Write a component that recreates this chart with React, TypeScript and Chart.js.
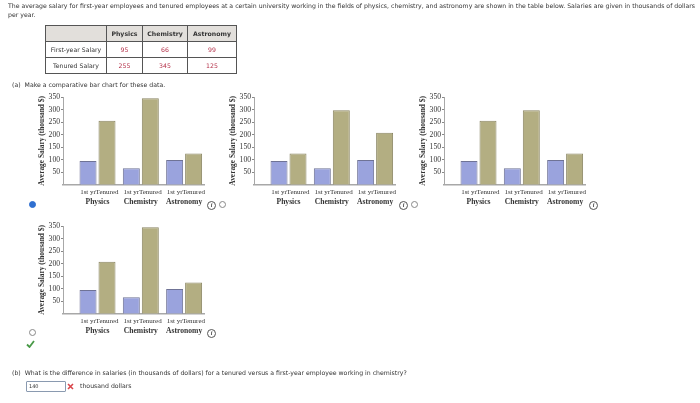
import React, { useEffect, useRef } from 'react';
import { Chart, registerables } from 'chart.js';

Chart.register(...registerables);

const categories = ['Physics', 'Chemistry', 'Astronomy'];
const barLabels = ['1st yr', 'Tenured'];
const yTicks = [50, 100, 150, 200, 250, 300, 350];

const firstYear = [95, 66, 99];
const tenuredA = [255, 345, 125];
const tenuredB = [125, 297, 207];
const tenuredC = [255, 297, 125];
const tenuredD = [207, 345, 125];

const tableRows = [
    { name: 'First-year Salary', values: ['95', '66', '99'] },
    { name: 'Tenured Salary', values: ['255', '345', '125'] },
];

const SERIF = '"Liberation Serif", serif';
const SANS = '"DejaVu Sans", sans-serif';
const TEXT = '#333';

// the "1st yr" / "Tenured" row under each bar, centred on the bar itself
const barLabelPlugin = {
    id: 'barLabels',
    afterDraw(chart: any) {
        const { ctx, chartArea } = chart;
        ctx.save();
        ctx.font = `7px ${SERIF}`;
        ctx.fillStyle = TEXT;
        ctx.textAlign = 'center';
        ctx.textBaseline = 'middle';
        barLabels.forEach((label, i) => {
            chart.getDatasetMeta(i).data.forEach((bar: any) => {
                ctx.fillText(label, bar.x, chartArea.bottom + 7);
            });
        });
        ctx.restore();
    },
};

const SalaryChart: React.FC<{ left: number; top: number; tenured: number[] }> = ({ left, top, tenured }) => {
    const canvasRef = useRef<HTMLCanvasElement | null>(null);

    useEffect(() => {
        if (!canvasRef.current) return;
        const chart = new Chart(canvasRef.current, {
            type: 'bar',
            data: {
                datasets: [
                    {
                        label: barLabels[0],
                        data: firstYear.map((y, i) => ({ x: i + 1, y })),
                        backgroundColor: '#9aa3dd',
                        borderColor: '#6f7396',
                        borderWidth: 1,
                    },
                    {
                        label: barLabels[1],
                        data: tenured.map((y, i) => ({ x: i + 1, y })),
                        backgroundColor: '#b3ae82',
                        borderColor: '#8a8663',
                        borderWidth: 1,
                    },
                ],
            },
            options: {
                animation: false,
                responsive: false,
                layout: { padding: { left: 18, top: 9, right: 6, bottom: 0 } },
                categoryPercentage: 0.877,
                barPercentage: 0.895,
                plugins: { legend: { display: false }, tooltip: { enabled: false } },
                scales: {
                    x: {
                        type: 'linear',
                        offset: false,
                        min: 0.203,
                        max: 3.459,
                        afterFit: (scale: any) => {
                            scale.height = 28.3;
                            scale.paddingLeft = 0;
                            scale.paddingRight = 0;
                        },
                        grid: { display: false, offset: false },
                        border: { color: '#a8a8a8', width: 1.5 },
                        ticks: {
                            stepSize: 1,
                            includeBounds: false,
                            padding: 5,
                            maxRotation: 0,
                            autoSkip: false,
                            color: TEXT,
                            font: { family: SERIF, size: 7.6, weight: 'bold' },
                            callback: (value: any) => categories[value - 1],
                        },
                    },
                    y: {
                        min: 0,
                        max: 350,
                        afterFit: (scale: any) => {
                            scale.width = 25;
                        },
                        afterBuildTicks: (scale: any) => {
                            scale.ticks = yTicks.map((value) => ({ value }));
                        },
                        grid: { drawOnChartArea: false, tickLength: 2, color: '#888' },
                        border: { color: '#a8a8a8', width: 1 },
                        title: {
                            display: true,
                            text: 'Average Salary (thousand $)',
                            color: TEXT,
                            padding: 0,
                            font: { family: SERIF, size: 7.4, weight: 'bold' },
                        },
                        ticks: { padding: 1, color: TEXT, font: { family: SERIF, size: 7.6 } },
                    },
                },
            } as any,
            plugins: [barLabelPlugin],
        });
        return () => chart.destroy();
    }, [tenured]);

    return (
        <canvas
            ref={canvasRef}
            width={190}
            height={125}
            style={{ position: 'absolute', left, top, width: 190, height: 125 }}
        />
    );
};

const Note: React.FC<{ x: number; y: number; children: React.ReactNode }> = ({ x, y, children }) => (
    <div style={{ position: 'absolute', left: x, top: y, whiteSpace: 'nowrap', lineHeight: '8px' }}>{children}</div>
);

const Radio: React.FC<{ x: number; y: number; on?: boolean }> = ({ x, y, on }) => (
    <div
        style={{
            position: 'absolute',
            left: x - 3,
            top: y - 3,
            width: 5,
            height: 5,
            borderRadius: '50%',
            border: on ? '0.5px solid #2f6fd0' : '0.5px solid #888',
            background: on ? '#2f6fd0' : '#fff',
        }}
    />
);

const Info: React.FC<{ x: number; y: number }> = ({ x, y }) => (
    <div
        style={{
            position: 'absolute',
            left: x - 4,
            top: y - 4,
            width: 7,
            height: 7,
            borderRadius: '50%',
            border: '0.8px solid #555',
            font: `italic bold 6px/7px ${SERIF}`,
            textAlign: 'center',
            color: '#444',
        }}
    >
        i
    </div>
);

const cell: React.CSSProperties = { border: '1px solid #555', padding: 0, textAlign: 'center' };

const App: React.FC = () => (
    <div
        style={{
            position: 'absolute',
            left: 0,
            top: 0,
            width: 700,
            height: 403,
            overflow: 'hidden',
            color: '#333',
            font: `6.2px ${SANS}`,
            filter: 'blur(0.45px)',
        }}
    >
        <Note x={8} y={2}>
            The average salary for first-year employees and tenured employees at a certain university working in the fields of physics, chemistry, and astronomy are shown in the table below. Salaries are given in thousands of dollars
        </Note>
        <Note x={8} y={11}>per year.</Note>

        <table
            style={{
                position: 'absolute',
                left: 45,
                top: 25,
                width: 191,
                height: 49,
                borderCollapse: 'collapse',
                tableLayout: 'fixed',
                font: `6.2px ${SANS}`,
            }}
        >
            <colgroup>
                <col style={{ width: 61 }} />
                <col style={{ width: 36 }} />
                <col style={{ width: 45 }} />
                <col style={{ width: 49 }} />
            </colgroup>
            <tbody>
                <tr style={{ background: '#e2dfdb', fontWeight: 'bold' }}>
                    <td style={cell} />
                    {categories.map((c) => (
                        <td key={c} style={cell}>{c}</td>
                    ))}
                </tr>
                {tableRows.map((row) => (
                    <tr key={row.name}>
                        <td style={cell}>{row.name}</td>
                        {row.values.map((v, i) => (
                            <td key={i} style={{ ...cell, color: '#b5324a' }}>{v}</td>
                        ))}
                    </tr>
                ))}
            </tbody>
        </table>

        <Note x={12} y={81}>(a)&nbsp;&nbsp;Make a comparative bar chart for these data.</Note>

        <SalaryChart left={20} top={88.3} tenured={tenuredA} />
        <SalaryChart left={211} top={88.3} tenured={tenuredB} />
        <SalaryChart left={401} top={88.3} tenured={tenuredC} />
        <SalaryChart left={20} top={216.7} tenured={tenuredD} />

        <Radio x={32} y={204} on />
        <Radio x={222} y={204} />
        <Radio x={414} y={204} />
        <Radio x={32} y={332} />
        <Info x={211} y={205} />
        <Info x={403} y={205} />
        <Info x={593} y={205} />
        <Info x={211} y={333} />

        <svg style={{ position: 'absolute', left: 26, top: 340 }} width={9} height={8}>
            <path d="M1 4.5 L3.5 7 L8 1" stroke="#4a9a48" strokeWidth={1.8} fill="none" />
        </svg>

        <Note x={12} y={369}>
            (b)&nbsp;&nbsp;What is the difference in salaries (in thousands of dollars) for a tenured versus a first-year employee working in chemistry?
        </Note>
        <div
            style={{
                position: 'absolute',
                left: 26,
                top: 381,
                width: 36,
                height: 9,
                paddingLeft: 2,
                border: '0.6px solid #8a9ab0',
                borderRadius: 1,
                lineHeight: '9px',
                fontSize: 5,
            }}
        >
            140
        </div>
        <svg style={{ position: 'absolute', left: 67, top: 383 }} width={7} height={7}>
            <path d="M1 1 L6 6 M6 1 L1 6" stroke="#d9454a" strokeWidth={1.6} />
        </svg>
        <Note x={80} y={382}>thousand dollars</Note>
    </div>
);

export default App;
